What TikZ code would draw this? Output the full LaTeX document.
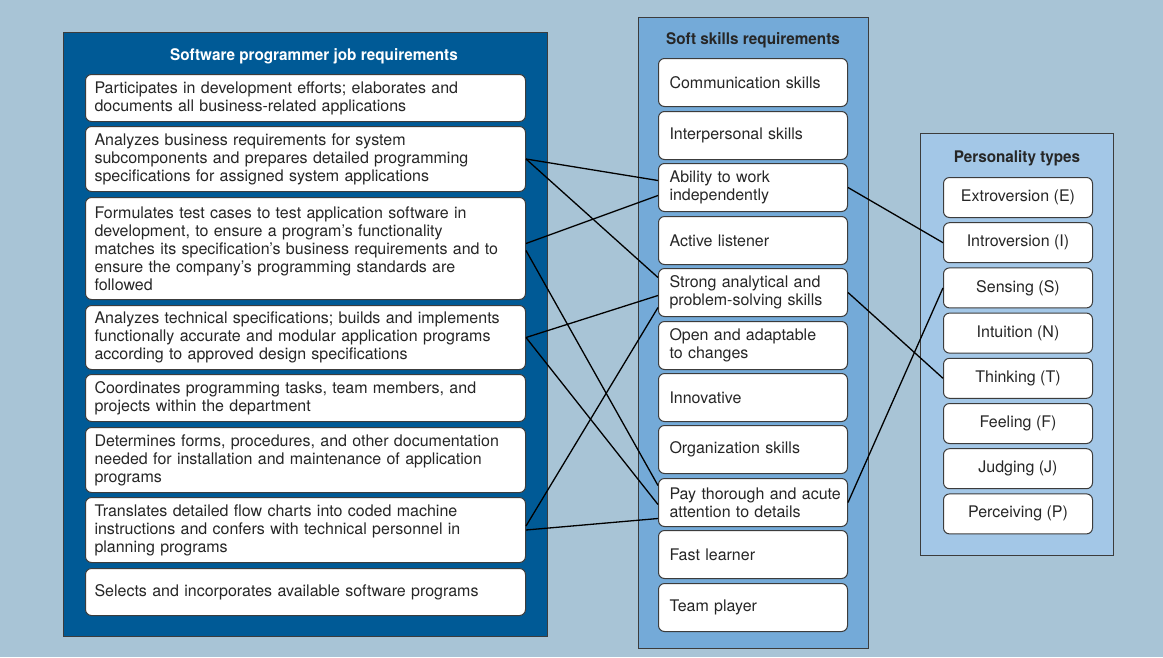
\documentclass[tikz,border=0pt]{standalone}
\usepackage{fontspec}
\setmainfont{TeX Gyre Heros}[BoldFeatures={FakeStretch=0.955}]
\usepackage{tikz}
\usetikzlibrary{positioning}
\usepackage{xcolor}

\definecolor{bgblue}{RGB}{168,196,214}
\definecolor{jobblue}{RGB}{0,90,150}
\definecolor{softblue}{RGB}{116,170,216}
\definecolor{persblue}{RGB}{163,199,231}
\definecolor{boxline}{RGB}{60,60,60}
\definecolor{txtgray}{RGB}{38,38,38}

\begin{document}
\begin{tikzpicture}[x=1pt,y=-1pt,
  panel/.style={draw=boxline, line width=0.8pt},
  head/.style={font=\fontsize{16}{18}\selectfont\bfseries, anchor=base, inner sep=0pt},
  card/.style={draw=boxline, fill=white, rounded corners=6pt, line width=1pt, text=txtgray,
    font=\fontsize{16}{18}\selectfont, anchor=north west},
  jobbox/.style={card, text width=422pt, inner xsep=9pt, align=left, minimum height=#1},
  softbox/.style={card, text width=167pt, inner xsep=11pt, align=left, minimum height=48pt},
  persbox/.style={card, minimum width=149pt, minimum height=40pt, align=center},
  link/.style={line width=1.3pt, black}
]

\useasboundingbox[fill=bgblue] (0,0) rectangle (1163,657);

%% panels
\draw[panel, fill=jobblue] (63,32) rectangle (547,636);
\draw[panel, fill=softblue] (638,17) rectangle (868,648);
\draw[panel, fill=persblue] (920,133) rectangle (1113,555);

\node[head, text=white] (jobtitle) at (314,60) {Software programmer job requirements};
\node[head, text=txtgray] (softtitle) at (753,44) {Soft skills requirements};
\node[head, text=txtgray] (perstitle) at (1017,162) {Personality types};

%% job requirements
\node[jobbox=47pt] (job1) at (85,74) {Participates in development efforts; elaborates and\\documents all business-related applications};
\node[jobbox=65pt] (job2) at (85,126) {Analyzes business requirements for system\\subcomponents and prepares detailed programming\\specifications for assigned system applications};
\node[jobbox=102pt] (job3) at (85,197) {Formulates test cases to test application software in\\development, to ensure a program’s functionality\\matches its specification’s business requirements and to\\ensure the company’s programming standards are\\followed};
\node[jobbox=64pt] (job4) at (85,305) {Analyzes technical specifications; builds and implements\\functionally accurate and modular application programs\\according to approved design specifications};
\node[jobbox=47pt] (job5) at (85,374) {Coordinates programming tasks, team members, and\\projects within the department};
\node[jobbox=65pt] (job6) at (85,427) {Determines forms, procedures, and other documentation\\needed for installation and maintenance of application\\programs};
\node[jobbox=65pt] (job7) at (85,497) {Translates detailed flow charts into coded machine\\instructions and confers with technical personnel in\\planning programs};
\node[jobbox=47pt] (job8) at (85,568) {Selects and incorporates available software programs};

%% soft skills
\node[softbox] (comm) at (658,58) {Communication skills};
\node[softbox] (inter) at (658,111) {Interpersonal skills};
\node[softbox] (indep) at (658,163) {Ability to work\\independently};
\node[softbox] (listen) at (658,216) {Active listener};
\node[softbox] (analyt) at (658,268) {Strong analytical and\\problem-solving skills};
\node[softbox] (open) at (658,321) {Open and adaptable\\to changes};
\node[softbox] (innov) at (658,373) {Innovative};
\node[softbox] (organ) at (658,425) {Organization skills};
\node[softbox] (detail) at (658,478) {\mbox{Pay thorough and acute}\\attention to details};
\node[softbox] (fast) at (658,530) {Fast learner};
\node[softbox] (team) at (658,583) {Team player};

%% personality types
\foreach \nm/\txt [count=\i from 0] in {extro/Extroversion (E), intro/Introversion (I),
    sens/Sensing (S), intu/Intuition (N), think/Thinking (T), feel/Feeling (F),
    judg/Judging (J), perc/Perceiving (P)}
  \node[persbox] (\nm) at (943,{177+45.2*\i}) {\txt};

%% links
\draw[link] (job2.east) -- ([yshift=7pt]indep.west);
\draw[link] (job2.east) -- ([yshift=15pt]analyt.west);
\draw[link] ([yshift=5pt]job3.east) -- ([yshift=-8pt]indep.west);
\draw[link] ([yshift=-2pt]job3.east) -- ([yshift=17pt]detail.west);
\draw[link] (job4.east) -- ([yshift=-3pt]analyt.west);
\draw[link] (job4.east) -- ([yshift=-2pt]detail.west);
\draw[link] ([yshift=4pt]job7.east) -- ([yshift=-15pt]analyt.west);
\draw[link] (job7.east) -- ([yshift=-16pt]detail.west);

\draw[link] (indep.east) -- (intro.west);
\draw[link] (analyt.east) -- (think.west);
\draw[link] (detail.east) -- (sens.west);

\end{tikzpicture}
\end{document}
